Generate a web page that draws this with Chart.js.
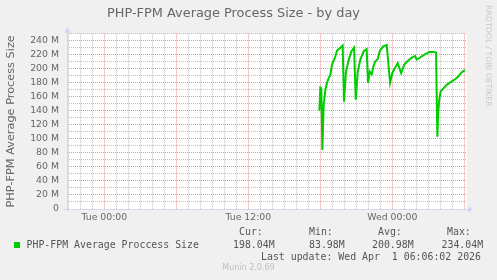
<!DOCTYPE html>
<html>
<head>
<meta charset="utf-8">
<script src="https://cdn.jsdelivr.net/npm/chart.js@4/dist/chart.umd.min.js"></script>
<style>
html,body{margin:0;padding:0;background:#f0f0f0;}
#wrap{position:relative;width:497px;height:280px;overflow:hidden;background:#f0f0f0;}
#c{position:absolute;left:0;top:0;}
.m{position:absolute;white-space:pre;font-family:"DejaVu Sans Mono",monospace;font-size:9.9px;line-height:12px;color:#555;}
#sq{position:absolute;left:14px;top:242px;width:6px;height:6px;background:#00cc00;}
#munin{position:absolute;left:200px;width:97px;top:263px;text-align:center;font-family:"DejaVu Sans",sans-serif;font-size:8px;line-height:10px;color:#c0c0c0;white-space:pre;}
#rrd{position:absolute;left:483px;top:5px;writing-mode:vertical-rl;font-family:"DejaVu Sans",sans-serif;font-size:7.9px;line-height:10px;color:#c8c8c8;white-space:pre;}
</style>
</head>
<body>
<div id="wrap">
<canvas id="c" width="497" height="280"></canvas>
<div id="rrd">RRDTOOL / TOBI OETIKER</div>
<div class="m" style="left:239px;top:226px">Cur:</div>
<div class="m" style="left:309px;top:226px">Min:</div>
<div class="m" style="left:378px;top:226px">Avg:</div>
<div class="m" style="left:447px;top:226px">Max:</div>
<div id="sq"></div>
<div class="m" style="left:26.5px;top:239px">PHP-FPM Average Proccess Size</div>
<div class="m" style="left:233px;top:239px">198.04M</div>
<div class="m" style="left:309px;top:239px">83.98M</div>
<div class="m" style="left:372px;top:239px">200.98M</div>
<div class="m" style="left:441.5px;top:239px">234.04M</div>
<div class="m" style="left:261px;top:250.5px">Last update: Wed Apr  1 06:06:02 2026</div>
<div id="munin">Munin 2.0.69</div>
</div>
<script>
// hours since Tue 00:00
const hours = [17.92,18.0,18.08,18.17,18.28,18.42,18.56,18.7,18.83,18.97,19.2,19.39,19.67,19.86,19.97,20.14,20.37,20.59,20.81,20.95,21.12,21.33,21.62,21.86,21.97,22.12,22.28,22.42,22.56,22.78,22.97,23.25,23.53,23.81,24.0,24.22,24.45,24.73,25.0,25.28,25.62,25.89,26.03,26.31,26.67,27.09,27.5,27.64,27.75,27.83,27.92,28.03,28.25,28.53,28.95,29.23,29.5,29.78,30.06];
// average process size, MB
const sizesM = [140,173,172,84,149,170,180,187,191,206,215,226,230,233,153,196,213,225,230,156,196,213,225,228,180,196,192,203,210,214,226,232,234,180,194,201,208,194,206,211,216,218,213,216,220,224,224,223,103,140,158,168,172,177,182,185,189,195,198];
const tickHours = [0, 12, 24];
const tickLabels = ['Tue 00:00', 'Tue 12:00', 'Wed 00:00'];
const chartTitle = 'PHP-FPM Average Process Size - by day';
const yTitle = 'PHP-FPM Average Process Size';
const xMin = -3.11, xMax = 30.22;
const yMin = 0, yMax = 250;

const MAJ = 'rgba(232,120,120,0.8)';
const MIN = 'rgba(170,170,170,0.75)';
const axisFont = {family:'DejaVu Sans', size:9.33, weight:'normal'};

function stepTicks(lo, hi, step){
  const out = [];
  for (let v = Math.ceil(lo/step)*step; v <= hi + 1e-9; v += step) out.push({value:v});
  return out;
}

const bgPlugin = {
  id:'bg',
  beforeDraw(chart){
    const {ctx, chartArea:a} = chart;
    ctx.save();
    ctx.fillStyle = '#f0f0f0';
    ctx.fillRect(0,0,chart.width,chart.height);
    ctx.fillStyle = '#ffffff';
    ctx.fillRect(a.left, a.top, a.right-a.left, a.bottom-a.top);
    ctx.restore();
  }
};
const axesPlugin = {
  id:'axes',
  afterDatasetsDraw(chart){
    const {ctx, chartArea:a} = chart;
    const y = Math.round(a.bottom) + 0.5;
    const x = Math.round(a.left) + 0.5;
    ctx.save();
    ctx.strokeStyle = '#cfd6f8';
    ctx.fillStyle = '#cfd6f8';
    ctx.lineWidth = 1;
    ctx.beginPath();
    ctx.moveTo(a.left - 4, y); ctx.lineTo(a.right + 1, y);
    ctx.moveTo(x, a.bottom + 3); ctx.lineTo(x, a.top - 1);
    ctx.stroke();
    ctx.beginPath();
    ctx.moveTo(a.right + 1, y - 3); ctx.lineTo(a.right + 6, y); ctx.lineTo(a.right + 1, y + 3);
    ctx.closePath(); ctx.fill();
    ctx.beginPath();
    ctx.moveTo(x - 3, a.top - 1); ctx.lineTo(x, a.top - 6.5); ctx.lineTo(x + 3, a.top - 1);
    ctx.closePath(); ctx.fill();
    ctx.restore();
  }
};

new Chart(document.getElementById('c'), {
  type:'line',
  data:{datasets:[{
    data: hours.map((h,i)=>({x:h, y:sizesM[i]})),
    borderColor:'#00cc00', borderWidth:2, pointRadius:0, tension:0, fill:false
  }]},
  options:{
    responsive:false, animation:false, devicePixelRatio:1,
    layout:{padding:{left:0,right:30,top:0,bottom:49}},
    plugins:{
      legend:{display:false}, tooltip:{enabled:false},
      title:{display:true, text:chartTitle, color:'#666',
        font:{family:'DejaVu Sans', size:12.9, weight:'normal'},
        padding:{top:6, bottom:12.2}}
    },
    scales:{
      x:{
        type:'linear', min:xMin, max:xMax,
        afterBuildTicks(s){ s.ticks = stepTicks(xMin, xMax, 1); },
        afterFit(s){ s.height = 22; },
        ticks:{autoSkip:false, maxRotation:0, minRotation:0, padding:3, color:'#666', font:axisFont,
          callback(v){ const i = tickHours.indexOf(Math.round(v)); return i>=0 ? tickLabels[i] : ''; }},
        grid:{drawTicks:false, lineWidth:1,
          color(c){ const v = c.tick ? Math.round(c.tick.value) : 1; return (((v%6)+6)%6===0) ? MAJ : MIN; }},
        border:{display:false, dash:[1,1]}
      },
      y:{
        type:'linear', min:yMin, max:yMax,
        afterBuildTicks(s){ s.ticks = stepTicks(yMin, yMax, 10); },
        afterFit(s){ s.width = 67; },
        ticks:{autoSkip:false, padding:8, color:'#666', font:axisFont,
          callback(v){ v = Math.round(v); if (v%20!==0 || v===250) return ''; return v===0 ? '0' : v + ' M'; }},
        grid:{drawTicks:false, lineWidth:1,
          color(c){ const v = c.tick ? Math.round(c.tick.value) : 1; return (v%20===0 && v!==0) ? MAJ : MIN; }},
        border:{display:false, dash:[1,1]},
        title:{display:true, text:yTitle, color:'#666',
          font:{family:'DejaVu Sans', size:11.3, weight:'normal'}, padding:{top:4.4,bottom:0}}
      }
    }
  },
  plugins:[bgPlugin, axesPlugin]
});
</script>
</body>
</html>
